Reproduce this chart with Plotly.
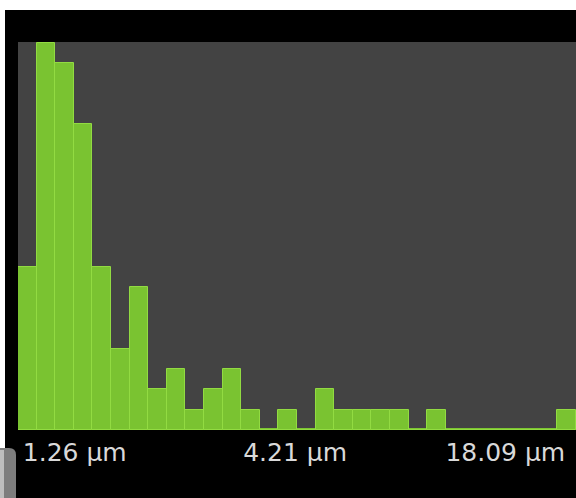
import plotly.graph_objects as go

# Histogram bin counts (30 bins, left to right)
bins = list(range(30))
counts = [8, 19, 18, 15, 8, 4, 7, 2, 3, 1,
          2, 3, 1, 0, 1, 0, 2, 1, 1, 1,
          1, 0, 1, 0, 0, 0, 0, 0, 0, 1]
tick_labels = ["1.26 µm", "4.21 µm", "18.09 µm"]
tick_bins = [2.55, 14.4, 25.7]

W, H = 576, 498
L, R, T, B = 18, 0, 42, 68
pw, ph = W - L - R, H - T - B

def px(x):
    return (x - L) / pw

def py(y):
    return (H - B - y) / ph

fig = go.Figure()
fig.add_trace(go.Bar(
    x=bins, y=counts,
    marker=dict(color="#7ac331", line=dict(color="#92db42", width=1)),
    hoverinfo="skip",
))

shapes = [
    # baseline green line
    dict(type="line", xref="x", yref="y", x0=-0.5, x1=29.5, y0=0, y1=0,
         line=dict(color="#7cc432", width=4), layer="below"),
    # white top band
    dict(type="rect", xref="paper", yref="paper", x0=px(0), x1=px(W), y0=py(10), y1=py(0),
         fillcolor="white", line=dict(width=0), layer="above"),
    # white left strip
    dict(type="rect", xref="paper", yref="paper", x0=px(0), x1=px(5), y0=py(450), y1=py(10),
         fillcolor="white", line=dict(width=0), layer="above"),
    # gray rounded element bottom-left
    dict(type="path", xref="paper", yref="paper",
         path=(f"M {px(0)} {py(498)} L {px(0)} {py(448)} L {px(9)} {py(448)} "
               f"Q {px(16)} {py(448)} {px(16)} {py(455)} L {px(16)} {py(498)} Z"),
         fillcolor="#7d7d7d", line=dict(width=0), layer="above"),
    dict(type="rect", xref="paper", yref="paper", x0=px(0), x1=px(4), y0=py(498), y1=py(450),
         fillcolor="#bdbdbd", line=dict(width=0), layer="above"),
]

fig.update_layout(
    width=W, height=H,
    margin=dict(l=L, r=R, t=T, b=B, pad=0),
    paper_bgcolor="black",
    plot_bgcolor="#434343",
    bargap=0,
    showlegend=False,
    shapes=shapes,
    xaxis=dict(range=[-0.5, 29.5], showgrid=False, zeroline=False, showline=False,
               tickmode="array", tickvals=tick_bins, ticktext=tick_labels,
               ticks="", ticklen=0, ticklabelstandoff=5,
               tickfont=dict(family="DejaVu Sans", size=25, color="#d9d9d9")),
    yaxis=dict(range=[0, 19.05], showgrid=False, zeroline=False, showline=False,
               showticklabels=False, ticks=""),
)

fig.write_html(
    "out.html",
    config={"displayModeBar": False},
    post_script="document.body.style.margin='0';document.body.style.overflow='hidden';",
)
